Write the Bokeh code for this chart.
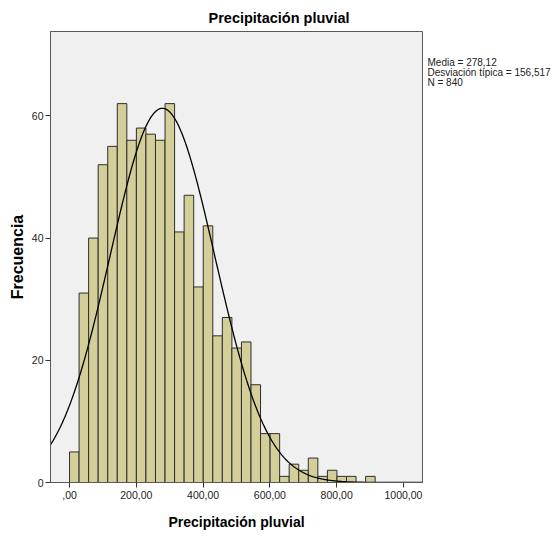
from bokeh.plotting import figure
from bokeh.models import FixedTicker, LinearAxis, AllLabels
from bokeh.embed import file_html
from bokeh.resources import INLINE
import numpy as np

# Histogram of monthly rainfall (840 observations), 32 bins starting at 0
counts = [5, 31, 40, 52, 55, 62, 56, 58, 57, 56, 62, 41, 47, 32, 42, 24,
          27, 22, 23, 16, 8, 8, 1, 3, 2, 4, 1, 2, 1, 1, 0, 1]
bin_width = 28.6
mean = 278.12
std_dev = 156.517
n_obs = 840

x_ticks = [0, 200, 400, 600, 800, 1000]
x_tick_labels = [",00", "200,00", "400,00", "600,00", "800,00", "1000,00"]
y_ticks = [0, 20, 40, 60]
stats_lines = ["Media = 278,12", "Desviación típica = 156,517", "N = 840"]

X_MIN, X_MAX = -57, 1057
Y_MAX = 73.8
FONT = "Liberation Sans"

p = figure(width=558, height=536, x_range=(X_MIN, X_MAX), y_range=(0, Y_MAX),
           output_backend="svg", toolbar_location=None,
           min_border_left=50, min_border_right=136,
           min_border_top=31, min_border_bottom=54)

p.background_fill_color = "#F0F0F0"
p.border_fill_color = "white"
p.outline_line_color = "#5a5a5a"
p.outline_line_width = 1
p.xgrid.visible = False
p.ygrid.visible = False

# chart title, centred over the whole canvas (offset from the frame's left edge)
p.title.text = "Precipitación pluvial"
p.title.align = "left"
p.title.offset = 158
p.title.standoff = 12
p.title.text_font = FONT
p.title.text_font_style = "bold"
p.title.text_font_size = "14.5px"
p.title.text_color = "black"

# bars
lefts = [i * bin_width for i, c in enumerate(counts) if c > 0]
tops = [c for c in counts if c > 0]
rights = [l + bin_width for l in lefts]
p.quad(left=lefts, right=rights, bottom=0, top=tops,
       fill_color="#D4CF99", line_color="#2e2e2e", line_width=1)

# fitted normal curve scaled to counts
xs = np.linspace(X_MIN, X_MAX, 500)
ys = n_obs * bin_width * np.exp(-0.5 * ((xs - mean) / std_dev) ** 2) / (std_dev * np.sqrt(2 * np.pi))
p.line(xs, ys, line_color="black", line_width=1.3)

# axes
for ax in (p.xaxis[0], p.yaxis[0]):
    ax.axis_line_color = "#5a5a5a"
    ax.major_tick_line_color = "#333333"
    ax.major_tick_in = 0
    ax.major_tick_out = 5
    ax.minor_tick_line_color = None
    ax.major_label_text_font = FONT
    ax.major_label_text_font_size = "10.5px"
    ax.major_label_text_color = "#222222"
    ax.axis_label_text_font = FONT
    ax.axis_label_text_font_style = "bold"
    ax.axis_label_text_color = "black"

p.xaxis.ticker = FixedTicker(ticks=x_ticks)
p.xaxis.major_label_overrides = {t: s for t, s in zip(x_ticks, x_tick_labels)}
p.xaxis.major_label_standoff = 3
p.xaxis.axis_label = "Precipitación pluvial"
p.xaxis.axis_label_text_font_size = "14px"
p.xaxis.axis_label_standoff = 12

p.yaxis.ticker = FixedTicker(ticks=y_ticks)
p.yaxis.major_label_standoff = 2
p.yaxis.axis_label = "Frecuencia"
p.yaxis.axis_label_text_font_size = "16px"
p.yaxis.axis_label_standoff = 3

# summary statistics block right of the frame, written as the labels of a
# bare right-hand axis (no line, no ticks), one row every ~10 px near the top
px_per_unit = 450 / Y_MAX
stats_pos = [Y_MAX - (31 + 10 * i) / px_per_unit for i in range(len(stats_lines))]
stats_axis = LinearAxis(ticker=FixedTicker(ticks=stats_pos),
                        major_label_overrides={v: s for v, s in zip(stats_pos, stats_lines)},
                        major_label_policy=AllLabels(),
                        axis_line_color=None, major_tick_line_color=None,
                        minor_tick_line_color=None,
                        major_tick_in=0, major_tick_out=0, major_label_standoff=5,
                        major_label_text_font=FONT, major_label_text_font_size="10px",
                        major_label_text_color="#222222")
p.add_layout(stats_axis, "right")

open("out.html", "w").write(file_html(p, INLINE))
